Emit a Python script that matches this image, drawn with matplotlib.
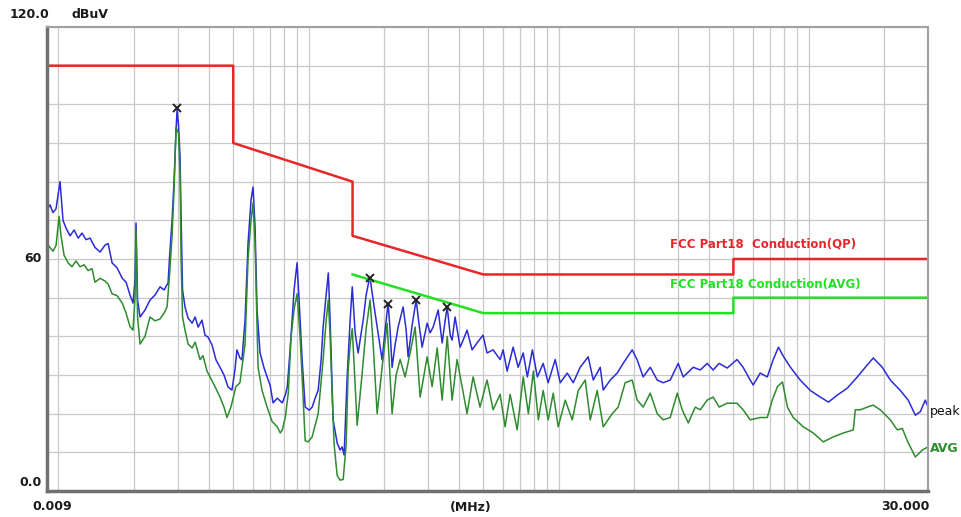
import matplotlib
matplotlib.use("Agg")
import matplotlib.pyplot as plt
from matplotlib.ticker import LogLocator, NullFormatter, MultipleLocator

# ---------------- data (MHz, dBuV) ---------------- #

peak_freq = [0.009, 0.00925, 0.00951, 0.00978, 0.01015, 0.01043, 0.01072, 0.01113, 0.01155, 0.0120,
             0.01243, 0.01289, 0.01338, 0.0140, 0.01467, 0.01536, 0.0158, 0.01639, 0.01716, 0.0180,
             0.01864, 0.01933, 0.01987, 0.02024, 0.02043, 0.02072, 0.0212, 0.02219, 0.02324, 0.02434,
             0.02549, 0.02645, 0.02744, 0.02782, 0.02847, 0.0290, 0.02953, 0.02981, 0.0302, 0.03064,
             0.03093, 0.03135, 0.03207, 0.0330, 0.03423, 0.0352, 0.03619, 0.0375, 0.03855, 0.03963,
             0.04112, 0.04266, 0.04426, 0.04592, 0.04765, 0.04941, 0.05079, 0.05173, 0.05318, 0.05417,
             0.05574, 0.0573, 0.0589, 0.060, 0.06112, 0.06225, 0.0640, 0.06642, 0.06829, 0.07019,
             0.07217, 0.075, 0.07854, 0.08074, 0.08224, 0.0844, 0.08595, 0.08755, 0.090, 0.09167,
             0.09428, 0.09696, 0.1006, 0.1034, 0.1063, 0.1093, 0.1123, 0.1144, 0.1176, 0.120,
             0.122, 0.1254, 0.1302, 0.1338, 0.1362, 0.1388, 0.1427, 0.1467, 0.1496, 0.1536,
             0.1579, 0.1654, 0.170, 0.1747, 0.1763, 0.1813, 0.1881, 0.1969, 0.2024, 0.2081,
             0.2119, 0.2159, 0.2219, 0.2282, 0.2389, 0.2457, 0.2502, 0.2596, 0.2694, 0.2769,
             0.2846, 0.2981, 0.3064, 0.315, 0.33, 0.3423, 0.352, 0.3586, 0.3687, 0.375,
             0.3855, 0.4037, 0.415, 0.4305, 0.4509, 0.472, 0.4986, 0.5174, 0.5472, 0.5836,
             0.60, 0.6225, 0.658, 0.689, 0.7217, 0.75, 0.7854, 0.8224, 0.8675, 0.9084,
             0.9692, 1.015, 1.083, 1.144, 1.22, 1.313, 1.376, 1.467, 1.508, 1.609,
             1.715, 1.812, 1.969, 2.062, 2.179, 2.325, 2.479, 2.62, 2.795, 3.008,
             3.15, 3.455, 3.685, 3.927, 4.15, 4.385, 4.72, 5.17, 5.467, 5.836,
             6.0, 6.4, 6.83, 7.217, 7.57, 7.926, 8.454, 9.25, 10.15, 11.12,
             12.0, 13.01, 14.27, 15.65, 17.15, 18.12, 19.69, 21.2, 23.25, 25.0,
             26.7, 27.95, 29.26, 30.0]

peak_level = [72.7, 74, 72, 73, 80, 70, 68, 66, 67.5, 65.4,
              66.7, 65, 65.4, 63, 61.8, 63.6, 64, 59, 57.7, 55,
              54, 50.7, 48.6, 54.6, 69.3, 49.4, 45, 46.8, 49.4, 50.7,
              52.8, 52, 53.8, 60.5, 70, 80.4, 93.4, 98.5, 94.7, 86.4,
              70.9, 52, 47.6, 44.7, 43.4, 45, 42.4, 44.2, 40.3, 39.8,
              37.8, 33.9, 32, 30, 26.9, 26.1, 31.3, 36.5, 34.4, 33.9,
              44.2, 64, 75.3, 78.6, 68.3, 46.8, 35.7, 31.8, 29.5, 27.4,
              22.8, 24, 22.8, 24.8, 26.9, 36.5, 44.2, 52, 59, 49.4,
              33.9, 21.7, 20.9, 21.7, 24, 26.1, 33.9, 42.4, 50.7, 56.4,
              44.2, 18.4, 12.4, 10.6, 11.4, 9.3, 29.5, 44.2, 52.8, 40.9,
              35.7, 44.2, 50.7, 54.6, 55.1, 49.4, 42.4, 33.9, 41.6, 48.6,
              41.6, 32, 37.8, 42.4, 47.6, 41.6, 34.7, 42.9, 49.4, 42.9,
              37.2, 43.4, 40.9, 42.4, 46.8, 38.3, 44.2, 47.6, 40.3, 39,
              45, 37.2, 39, 41.6, 36.5, 38.3, 40.3, 35.7, 36.5, 34,
              36.5, 31, 37.2, 32, 35.7, 29.5, 36.5, 29.5, 33, 28,
              34, 28, 30.5, 28, 32, 34.7, 28.7, 32, 26.1, 28.7,
              30.5, 33, 36.5, 33.9, 29.5, 32, 28.7, 28, 28.7, 33,
              29.5, 32, 31.3, 33, 31.3, 33, 31.8, 34, 32, 28.7,
              27.4, 30.5, 29.5, 34, 37.2, 34.8, 32, 28.7, 26, 24.3,
              23, 24.8, 26.6, 29.5, 32.6, 34.4, 32, 28.7, 26, 23.5,
              19.6, 20.5, 23.5, 21.7]

avg_freq = [0.009, 0.00925, 0.00951, 0.00978, 0.01006, 0.01024, 0.01053, 0.01093, 0.01133, 0.01176,
            0.0122, 0.01266, 0.01314, 0.01363, 0.0140, 0.01467, 0.01536, 0.0158, 0.01639, 0.01716,
            0.0180, 0.01864, 0.01933, 0.01987, 0.02024, 0.02043, 0.02072, 0.0212, 0.02219, 0.02324,
            0.02434, 0.02549, 0.02645, 0.02719, 0.02782, 0.02847, 0.0290, 0.02953, 0.0302, 0.03064,
            0.03093, 0.03135, 0.03207, 0.0330, 0.03423, 0.0352, 0.03685, 0.03785, 0.03927, 0.04037,
            0.04227, 0.04426, 0.04592, 0.0472, 0.04895, 0.05125, 0.05318, 0.05467, 0.05574, 0.0573,
            0.0589, 0.060, 0.06112, 0.06283, 0.0652, 0.06829, 0.0715, 0.075, 0.0771, 0.07854,
            0.08074, 0.083, 0.08516, 0.08755, 0.090, 0.0925, 0.09428, 0.09696, 0.0996, 0.1034,
            0.1063, 0.1093, 0.1144, 0.1176, 0.120, 0.122, 0.1243, 0.1266, 0.1302, 0.1338,
            0.1376, 0.1414, 0.144, 0.1467, 0.1496, 0.1565, 0.1639, 0.170, 0.1763, 0.1813,
            0.1881, 0.1969, 0.2062, 0.2159, 0.224, 0.2325, 0.2434, 0.2549, 0.2669, 0.2795,
            0.2981, 0.3121, 0.3269, 0.3423, 0.3586, 0.375, 0.3927, 0.4111, 0.4305, 0.455,
            0.485, 0.5174, 0.5472, 0.5836, 0.611, 0.64, 0.6828, 0.7217, 0.757, 0.7926,
            0.83, 0.8675, 0.9084, 0.9515, 0.9963, 1.063, 1.134, 1.198, 1.278, 1.338,
            1.427, 1.508, 1.639, 1.731, 1.846, 1.969, 2.062, 2.179, 2.325, 2.479,
            2.62, 2.795, 2.981, 3.121, 3.3, 3.519, 3.685, 3.927, 4.15, 4.385,
            4.72, 5.17, 5.467, 5.836, 6.4, 6.83, 7.15, 7.5, 7.854, 8.224,
            8.674, 9.515, 10.43, 11.44, 12.54, 13.76, 15.08, 15.36, 16.09, 17.15,
            18.12, 19.33, 21.2, 22.61, 23.68, 24.79, 26.7, 28.47, 30.0]

avg_level = [64, 63, 62, 63.5, 71, 66, 61, 59, 58, 59.5,
             58, 58.5, 57, 57.5, 54, 55, 54.3, 53.5, 51, 50.5,
             48.6, 46, 42.5, 41.6, 50, 67.5, 45, 38, 40, 45,
             44, 44.5, 46, 47.6, 56, 66, 78, 94, 92.6, 82,
             60, 45, 41.6, 38, 37, 38.5, 34, 35, 31, 29.5,
             27, 24.3, 21.7, 19, 21.7, 27, 28, 34, 38, 60,
             70, 74.5, 64, 32, 26, 21.7, 18, 16.6, 15, 15.8,
             19, 25.3, 40, 47, 51, 40, 29.5, 13, 12.7, 14,
             17, 20, 34, 44, 49.4, 40, 25, 12, 4, 2.8,
             3, 12, 31, 38, 42, 17, 30.5, 42, 49.4, 38,
             20, 32, 43.4, 20, 30, 34, 29.5, 35.7, 42.4, 24.3,
             34.7, 27, 37, 23.5, 40, 23.5, 34, 27, 20, 29.5,
             21.7, 28.7, 21, 25, 16.6, 25, 15.8, 29.5, 20, 31,
             18.4, 26, 18.4, 25.3, 16.6, 23.5, 18.4, 26, 28.7, 18.4,
             26, 16.6, 20, 21.7, 28, 28.7, 23.5, 21.7, 25.3, 20,
             18.4, 19, 25.3, 21, 17.6, 21.7, 21, 23.5, 24.3, 21.7,
             22.7, 22.7, 21, 18.4, 19, 19, 23.5, 27, 28.2, 21.7,
             19, 16.6, 15, 12.7, 14, 15, 15.8, 21, 21, 21.7,
             22.2, 21, 18.4, 15.8, 16.2, 13, 8.8, 10.6, 11.4]

# FCC Part 18 limits
qp_limit_freq = [0.009, 0.05, 0.05, 0.15, 0.15, 0.5, 5, 5, 30]
qp_limit_level = [110, 110, 90, 80, 66, 56, 56, 60, 60]
avg_limit_freq = [0.15, 0.5, 5, 5, 30]
avg_limit_level = [56, 46, 46, 50, 50]

# marcas de pico
marker_freq = [0.0298, 0.1763, 0.2081, 0.2694, 0.3586]
marker_level = [99, 55.2, 48.3, 49.5, 47.6]

# ---------------- figura ---------------- #
W, H = 962, 517
fig = plt.figure(figsize=(W / 100, H / 100), dpi=100)
ax = fig.add_axes([47 / W, 1 - 491 / H, 881 / W, 464 / H])

ax.set_xscale("log")
ax.set_xlim(0.009, 30)
ax.set_ylim(0, 120)

ax.xaxis.set_major_locator(LogLocator(base=10, subs=[1.0]))
ax.xaxis.set_minor_locator(LogLocator(base=10, subs=range(2, 10)))
ax.xaxis.set_major_formatter(NullFormatter())
ax.xaxis.set_minor_formatter(NullFormatter())
ax.yaxis.set_major_locator(MultipleLocator(10))
ax.set_yticklabels([])
ax.tick_params(which="both", length=0)
ax.grid(True, which="both", color="#c8c8c8", lw=0.9)
ax.set_axisbelow(True)

for s in ["left", "bottom"]:
    ax.spines[s].set_color("#707070")
    ax.spines[s].set_linewidth(2.5)
for s in ["top", "right"]:
    ax.spines[s].set_color("#a0a0a0")
    ax.spines[s].set_linewidth(1.5)

# trazas
ax.plot(peak_freq, peak_level, color="#2b2bd8", lw=1.1)
ax.plot(avg_freq, avg_level, color="#2e8b2e", lw=1.1)

# limites
ax.plot(qp_limit_freq, qp_limit_level, color="#e8262a", lw=1.8)
ax.plot(avg_limit_freq, avg_limit_level, color="#22e022", lw=1.8)

ax.plot(marker_freq, marker_level, "x", color="#222222", ms=6, mew=1.4)

ax.text(2.79, 64, "FCC Part18  Conduction(QP)", color="#e8262a", fontsize=8.5,
        fontweight="bold", ha="left", va="center")
ax.text(2.79, 53.3, "FCC Part18 Conduction(AVG)", color="#22e022", fontsize=8.5,
        fontweight="bold", ha="left", va="center")

# textos de ejes
tc = "#1a1a1a"
fs = 9
def ftxt(x, y, s, **kw):
    fig.text(x / W, 1 - y / H, s, fontsize=kw.pop("fontsize", fs), color=kw.pop("color", tc),
             fontweight=kw.pop("fontweight", "bold"), va="center", **kw)

ftxt(10, 15, "120.0", ha="left")
ftxt(72, 15, "dBuV", ha="left")
ftxt(42, 258, "60", ha="right")
ftxt(42, 482, "0.0", ha="right")
ftxt(32, 507, "0.009", ha="left")
ftxt(471, 507, "(MHz)", ha="center")
ftxt(930, 507, "30.000", ha="right")
ftxt(930, 412, "peak", ha="left", fontweight="normal", color="#111111")
ftxt(930, 449, "AVG", ha="left", color="#2e8b2e")

fig.savefig("out.png", dpi=100, facecolor="white")
